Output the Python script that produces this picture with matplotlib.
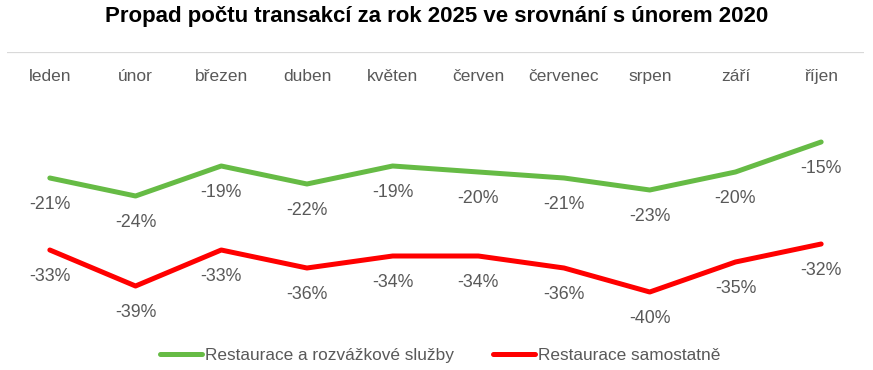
import numpy as np
import matplotlib
matplotlib.use("Agg")
import matplotlib.pyplot as plt

months = ["leden", "únor", "březen", "duben", "květen", "červen",
          "červenec", "srpen", "září", "říjen"]
delivery = [-21, -24, -19, -22, -19, -20, -21, -23, -20, -15]
standalone = [-33, -39, -33, -36, -34, -34, -36, -40, -35, -32]
series_names = ["Restaurace a rozvážkové služby", "Restaurace samostatně"]

GREEN = "#66bb45"
RED = "#ff0000"
GREY = "#595959"

fig = plt.figure(figsize=(8.73, 3.70), dpi=100, facecolor="w")
ax = fig.add_axes([0.008, 0.1297, 0.9817, 0.8595 - 0.1297])

x = np.arange(len(months))
ax.plot(x, delivery, color=GREEN, lw=3.6, solid_capstyle="round",
        solid_joinstyle="round", label=series_names[0])
ax.plot(x, standalone, color=RED, lw=3.6, solid_capstyle="round",
        solid_joinstyle="round", label=series_names[1])

ax.set_xlim(-0.5, len(months) - 0.5)
ax.set_ylim(-45, 0)
ax.axis("off")
ax.axhline(0, color="#d9d9d9", lw=1.6)

# month labels just under the zero line
for i, m in enumerate(months):
    ax.annotate(m, xy=(i, 0), xytext=(0, -17.5), textcoords="offset points",
                ha="center", va="center", fontsize=12.5, color=GREY,
                family="Liberation Sans")

# data labels under the points
for vals in (delivery, standalone):
    for i, v in enumerate(vals):
        ax.annotate(f"{v}%", xy=(i, v), xytext=(0, -19), textcoords="offset points",
                    ha="center", va="center", fontsize=12.8, color=GREY,
                    family="Liberation Sans")

fig.suptitle("Propad počtu transakcí za rok 2025 ve srovnání s únorem 2020",
             x=0.5, y=0.985, va="top", fontsize=16, fontweight="bold",
             family="Liberation Sans")

leg = fig.legend(loc="center", bbox_to_anchor=(0.504, 0.038), ncol=2, frameon=False,
                 handlelength=2.45, handletextpad=0.17, columnspacing=2.25,
                 prop={"family": "Liberation Sans", "size": 12.4})
for t in leg.get_texts():
    t.set_color(GREY)

fig.savefig("out.png", dpi=100)
